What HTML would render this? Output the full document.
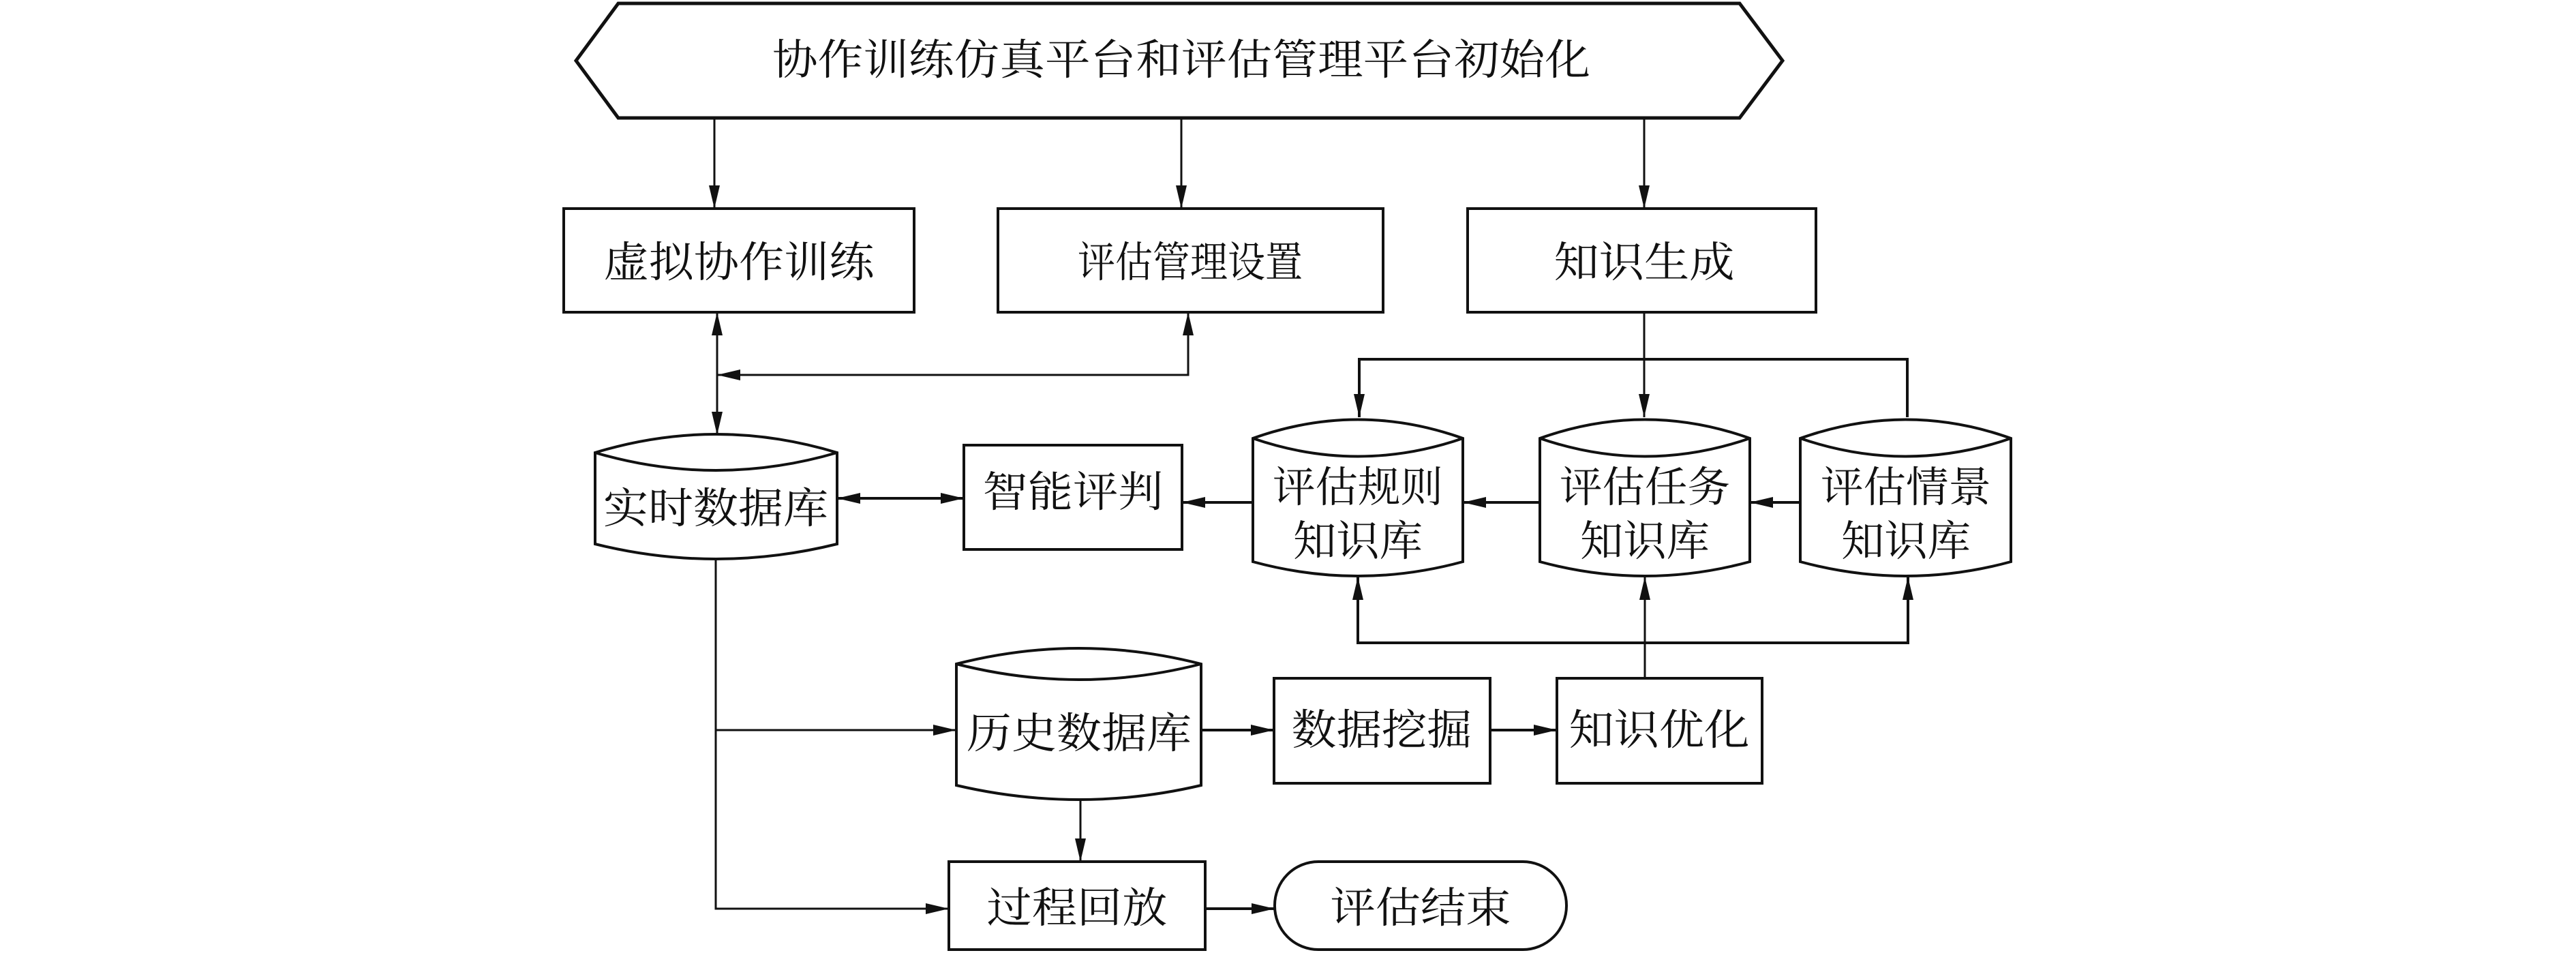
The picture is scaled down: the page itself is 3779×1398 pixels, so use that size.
<!DOCTYPE html>
<html><head><meta charset="utf-8"><style>
html,body{margin:0;padding:0;background:#fff}
svg{display:block}
text{font-family:"Liberation Serif","Noto Serif CJK SC","Noto Sans CJK SC",serif;font-size:62px;fill:#111}
</style></head><body>
<svg width="3779" height="1398" viewBox="0 0 3779 1398" xmlns="http://www.w3.org/2000/svg">
<defs>
<marker id="a" markerUnits="userSpaceOnUse" markerWidth="36" markerHeight="18" refX="34" refY="8" orient="auto-start-reverse">
<path d="M0,0 L34,8 L0,16 Z" fill="#111"/></marker>
</defs>
<g fill="none" stroke="#111" stroke-width="4">
<!-- hexagon -->
<path d="M845,89 L907,5 L2552,5 L2615,89 L2552,173 L907,173 Z" stroke-width="5"/>
<!-- row1 boxes -->
<rect x="827" y="306" width="514" height="152"/>
<rect x="1464" y="306" width="565" height="152"/>
<rect x="2153" y="306" width="511" height="152"/>
<!-- realtime db -->
<path d="M873,664 Q1050,610 1228,664 L1228,798 Q1050,842 873,798 Z"/>
<path d="M873,664 Q1050,716 1228,664"/>
<!-- judge -->
<rect x="1414" y="653" width="320" height="153"/>
<!-- knowledge cylinders -->
<path d="M1838,643 Q1992,588 2146,643 L2146,824 Q1992,866 1838,824 Z"/>
<path d="M1838,643 Q1992,696 2146,643"/>
<path d="M2259,643 Q2413,588 2567,643 L2567,824 Q2413,866 2259,824 Z"/>
<path d="M2259,643 Q2413,696 2567,643"/>
<path d="M2641,643 Q2796,588 2950,643 L2950,824 Q2796,866 2641,824 Z"/>
<path d="M2641,643 Q2796,696 2950,643"/>
<!-- history db -->
<path d="M1403,974 Q1583,928 1762,974 L1762,1152 Q1583,1194 1403,1152 Z"/>
<path d="M1403,974 Q1583,1020 1762,974"/>
<!-- mining / opt -->
<rect x="1869" y="995" width="317" height="154"/>
<rect x="2284" y="995" width="301" height="154"/>
<!-- replay / end -->
<rect x="1392" y="1264" width="376" height="129"/>
<rect x="1870" y="1264" width="428" height="129" rx="64" ry="64"/>
</g>
<g fill="none" stroke="#111" stroke-width="3">
<line x1="1048" y1="173" x2="1048" y2="306" marker-end="url(#a)"/>
<line x1="1733" y1="173" x2="1733" y2="306" marker-end="url(#a)"/>
<line x1="2412" y1="173" x2="2412" y2="306" marker-end="url(#a)"/>
<line x1="1052" y1="458" x2="1052" y2="638" marker-start="url(#a)" marker-end="url(#a)"/>
<polyline points="1743,458 1743,550 1052,550" marker-start="url(#a)" marker-end="url(#a)"/>
<line x1="2412" y1="458" x2="2412" y2="612" marker-end="url(#a)"/>
<polyline points="1994,612 1994,527 2798,527 2798,612" marker-start="url(#a)" stroke-width="4"/>
<line x1="1228" y1="731" x2="1414" y2="731" stroke-width="4" marker-start="url(#a)" marker-end="url(#a)"/>
<line x1="1838" y1="737" x2="1734" y2="737" stroke-width="4" marker-end="url(#a)"/>
<line x1="2259" y1="737" x2="2146" y2="737" stroke-width="4" marker-end="url(#a)"/>
<line x1="2641" y1="737" x2="2567" y2="737" stroke-width="4" marker-end="url(#a)"/>
<line x1="2413" y1="995" x2="2413" y2="846" marker-end="url(#a)"/>
<polyline points="1992,846 1992,943 2799,943 2799,846" marker-start="url(#a)" marker-end="url(#a)" stroke-width="4"/>
<polyline points="1050,820 1050,1333 1392,1333" marker-end="url(#a)"/>
<line x1="1050" y1="1071" x2="1403" y2="1071" marker-end="url(#a)"/>
<line x1="1762" y1="1071" x2="1869" y2="1071" stroke-width="4" marker-end="url(#a)"/>
<line x1="2186" y1="1071" x2="2284" y2="1071" stroke-width="4" marker-end="url(#a)"/>
<line x1="1585" y1="1172" x2="1585" y2="1264" marker-end="url(#a)"/>
<line x1="1768" y1="1333" x2="1870" y2="1333" stroke-width="4" marker-end="url(#a)"/>
</g>
<g text-anchor="middle" dominant-baseline="central">
<text x="1733" y="89" textLength="1200" lengthAdjust="spacingAndGlyphs">协作训练仿真平台和评估管理平台初始化</text>
<text x="1084" y="386" textLength="397" lengthAdjust="spacingAndGlyphs">虚拟协作训练</text>
<text x="1746" y="386" textLength="330" lengthAdjust="spacingAndGlyphs">评估管理设置</text>
<text x="2412" y="386" textLength="265" lengthAdjust="spacingAndGlyphs">知识生成</text>
<text x="1050" y="747" textLength="330" lengthAdjust="spacingAndGlyphs">实时数据库</text>
<text x="1574" y="723" textLength="265" lengthAdjust="spacingAndGlyphs">智能评判</text>
<text x="1992" y="716" textLength="250" lengthAdjust="spacingAndGlyphs">评估规则</text>
<text x="1992" y="795" textLength="190" lengthAdjust="spacingAndGlyphs">知识库</text>
<text x="2413" y="716" textLength="250" lengthAdjust="spacingAndGlyphs">评估任务</text>
<text x="2413" y="795" textLength="190" lengthAdjust="spacingAndGlyphs">知识库</text>
<text x="2796" y="716" textLength="250" lengthAdjust="spacingAndGlyphs">评估情景</text>
<text x="2796" y="795" textLength="190" lengthAdjust="spacingAndGlyphs">知识库</text>
<text x="1583" y="1077" textLength="330" lengthAdjust="spacingAndGlyphs">历史数据库</text>
<text x="2027" y="1072" textLength="265" lengthAdjust="spacingAndGlyphs">数据挖掘</text>
<text x="2434" y="1072" textLength="265" lengthAdjust="spacingAndGlyphs">知识优化</text>
<text x="1580" y="1333" textLength="265" lengthAdjust="spacingAndGlyphs">过程回放</text>
<text x="2084" y="1333" textLength="265" lengthAdjust="spacingAndGlyphs">评估结束</text>
</g>
</svg>
</body></html>
